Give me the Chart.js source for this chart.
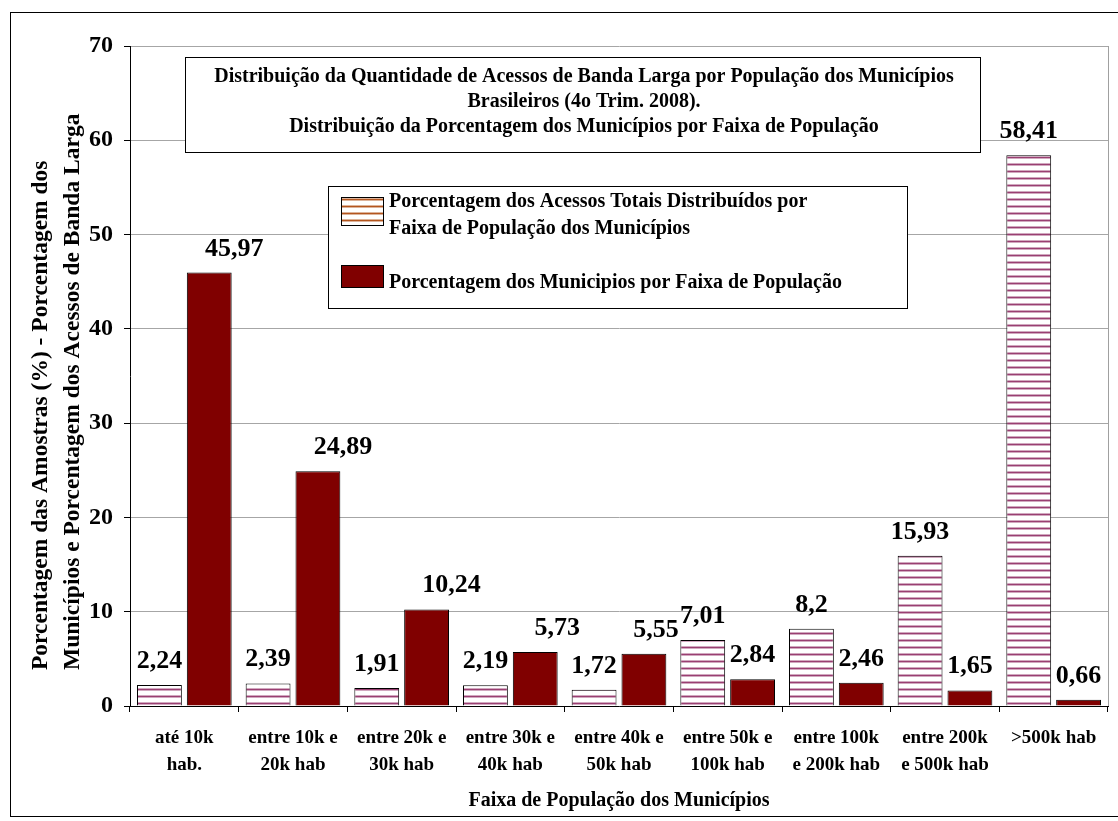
<!DOCTYPE html>
<html>
<head>
<meta charset="utf-8">
<script src="https://cdn.jsdelivr.net/npm/chart.js@4.4.1/dist/chart.umd.min.js"></script>
<style>
  html, body { margin: 0; padding: 0; background: #ffffff; }
  #wrap { width: 1118px; height: 821px; position: relative; }
</style>
</head>
<body>
<div id="wrap"><canvas id="c" width="1118" height="821"></canvas></div>
<script>
// ---- data ----
const categories = [
  ['até 10k', 'hab.'],
  ['entre 10k e', '20k hab'],
  ['entre 20k e', '30k hab'],
  ['entre 30k e', '40k hab'],
  ['entre 40k e', '50k hab'],
  ['entre 50k e', '100k hab'],
  ['entre 100k', 'e 200k hab'],
  ['entre 200k', 'e 500k hab'],
  ['>500k hab']
];
const accessValues = [2.24, 2.39, 1.91, 2.19, 1.72, 7.01, 8.2, 15.93, 58.41];
const municipalityValues = [45.97, 24.89, 10.24, 5.73, 5.55, 2.84, 2.46, 1.65, 0.66];
const accessLabel = ['Porcentagem dos Acessos Totais Distribuídos por', 'Faixa de População dos Municípios'];
const municipalityLabel = ['Porcentagem dos Municipios por Faixa de População'];
const titleLines = [
  'Distribuição da Quantidade de Acessos de Banda Larga por População dos Municípios',
  'Brasileiros (4o Trim. 2008).',
  'Distribuição da Porcentagem dos Municípios por Faixa de População'
];
const yTitle = ['Porcentagem das Amostras (%) - Porcentagem dos', 'Municípios e Porcentagem dos Acessos de Banda Larga'];
const xTitle = 'Faixa de População dos Municípios';
const yMin = 0, yMax = 70, yStep = 10;

// ---- styles ----
const FONT = '"Liberation Serif", "Times New Roman", serif';
// horizontal nudge of the value labels (per dataset, per category), in px
const labelNudge = [
  [0, 0, 0, 0, 0, 0, 0, 0, 0],
  [25, 25, 25, 22, 12, 0, 0, 0, 0]
];

function stripePattern(color) {
  const pc = document.createElement('canvas');
  pc.width = 8; pc.height = 7;
  const g = pc.getContext('2d');
  g.fillStyle = '#ffffff';
  g.fillRect(0, 0, 8, 7);
  g.fillStyle = color;
  g.globalAlpha = 0.45;
  g.fillRect(0, 2, 8, 3);
  g.globalAlpha = 1;
  g.fillRect(0, 3, 8, 1);
  return g.createPattern(pc, 'repeat');
}
const ctxMain = document.getElementById('c').getContext('2d');
const barStripe = stripePattern('#9a3f72');
const legendStripe = stripePattern('#b4561f');
const darkRed = '#800000';

const overlay = {
  id: 'overlay',
  afterDatasetsDraw(chart) {
    const ctx = chart.ctx;
    const ca = chart.chartArea;
    ctx.save();
    // right plot border
    ctx.strokeStyle = '#a0a0a0';
    ctx.lineWidth = 1;
    ctx.beginPath();
    ctx.moveTo(Math.round(ca.right) + 0.5, ca.top);
    ctx.lineTo(Math.round(ca.right) + 0.5, ca.bottom);
    ctx.stroke();
    // data labels
    ctx.fillStyle = '#000';
    ctx.font = 'bold 26px ' + FONT;
    ctx.textAlign = 'center';
    ctx.textBaseline = 'alphabetic';
    chart.data.datasets.forEach((ds, di) => {
      const meta = chart.getDatasetMeta(di);
      meta.data.forEach((bar, i) => {
        const txt = String(ds.data[i]).replace('.', ',');
        ctx.fillText(txt, bar.x + labelNudge[di][i], bar.y - 17);
      });
    });
    ctx.restore();
  },
  afterDraw(chart) {
    const ctx = chart.ctx;
    ctx.save();
    // outer frame
    ctx.strokeStyle = '#000';
    ctx.lineWidth = 1;
    ctx.strokeRect(10.5, 12.5, 1120, 804);
    // y axis title (two rotated lines, starting near the bottom)
    ctx.fillStyle = '#000';
    ctx.font = 'bold 23.5px ' + FONT;
    ctx.textAlign = 'left';
    ctx.textBaseline = 'middle';
    yTitle.forEach((t, i) => {
      ctx.save();
      ctx.translate(41 + i * 32, 670);
      ctx.rotate(-Math.PI / 2);
      ctx.fillText(t, 0, 0);
      ctx.restore();
    });
    // title box
    ctx.fillStyle = '#fff';
    ctx.fillRect(185, 57, 795, 95);
    ctx.strokeStyle = '#000';
    ctx.strokeRect(185.5, 57.5, 795, 95);
    ctx.fillStyle = '#000';
    ctx.font = 'bold 20px ' + FONT;
    ctx.textAlign = 'center';
    ctx.textBaseline = 'middle';
    titleLines.forEach((t, i) => ctx.fillText(t, 584, 77 + i * 25));
    // legend box
    ctx.fillStyle = '#fff';
    ctx.fillRect(328, 186, 579, 122);
    ctx.strokeStyle = '#000';
    ctx.strokeRect(328.5, 186.5, 579, 122);
    // swatches
    ctx.fillStyle = legendStripe;
    ctx.fillRect(341, 197, 42, 28);
    ctx.strokeRect(341.5, 197.5, 42, 28);
    ctx.fillStyle = darkRed;
    ctx.fillRect(341, 265, 42, 22);
    ctx.strokeRect(341.5, 265.5, 42, 22);
    ctx.fillStyle = '#000';
    ctx.font = 'bold 20px ' + FONT;
    ctx.textAlign = 'left';
    ctx.textBaseline = 'middle';
    accessLabel.forEach((t, i) => ctx.fillText(t, 389, 202 + i * 27));
    municipalityLabel.forEach((t, i) => ctx.fillText(t, 389, 283 + i * 27));
    ctx.restore();
  }
};

new Chart(ctxMain, {
  type: 'bar',
  data: {
    labels: categories,
    datasets: [
      {
        label: accessLabel.join(' '),
        data: accessValues,
        backgroundColor: barStripe,
        borderColor: '#000',
        borderWidth: 1,
        borderSkipped: 'bottom'
      },
      {
        label: municipalityLabel.join(' '),
        data: municipalityValues,
        backgroundColor: darkRed,
        borderColor: '#000',
        borderWidth: 1,
        borderSkipped: 'bottom'
      }
    ]
  },
  options: {
    responsive: false,
    animation: false,
    layout: { padding: { left: 10, right: 10, top: 46, bottom: 5 } },
    categoryPercentage: 0.917,
    barPercentage: 0.9,
    plugins: {
      legend: { display: false },
      tooltip: { enabled: false },
      title: { display: false }
    },
    scales: {
      x: {
        grid: {
          display: true,
          drawOnChartArea: false,
          drawTicks: true,
          tickLength: 6,
          tickColor: '#000',
          offset: true
        },
        border: { display: true, color: '#000', width: 1 },
        ticks: {
          color: '#000',
          font: { family: FONT, size: 19, weight: 'bold', lineHeight: 1.42 },
          padding: 13,
          maxRotation: 0,
          autoSkip: false
        },
        title: {
          display: true,
          text: xTitle,
          color: '#000',
          font: { family: FONT, size: 20, weight: 'bold', lineHeight: 1.2 },
          padding: { top: 0, bottom: 3 }
        },
        afterFit(scale) { scale.height = 110; }
      },
      y: {
        min: yMin,
        max: yMax,
        ticks: {
          stepSize: yStep,
          color: '#000',
          font: { family: FONT, size: 24, weight: 'bold' },
          padding: 11
        },
        grid: {
          color: '#a6a6a6',
          lineWidth: 1,
          tickColor: '#000',
          tickLength: 6
        },
        border: { display: true, color: '#000', width: 1 },
        title: { display: false },
        afterFit(scale) { scale.width = 120; }
      }
    }
  },
  plugins: [overlay]
});
</script>
</body>
</html>
